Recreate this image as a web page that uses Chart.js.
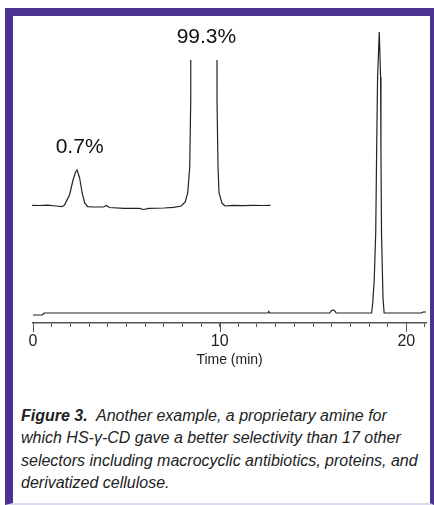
<!DOCTYPE html>
<html>
<head>
<meta charset="utf-8">
<script src="https://cdn.jsdelivr.net/npm/chart.js@4.4.1/dist/chart.umd.min.js"></script>
<style>
  body { margin: 0; background: #fff; width: 434px; height: 505px; overflow: hidden; }
  #frame {
    position: absolute; left: 5px; top: 8px; width: 429px; height: 497px;
    box-sizing: border-box;
    border-left: 8px solid #4b3190; border-top: 8px solid #4b3190;
    border-right: 4px solid #4b3190; border-bottom: 2px solid #dcd8ee;
  }
  #plot { position: absolute; left: 13px; top: 16px; }
  #caption {
    position: absolute; left: 21px; top: 405px; width: 420px;
    font-family: "Liberation Sans", Arial, sans-serif; font-style: italic;
    font-size: 16px; line-height: 22.3px; color: #222; white-space: nowrap;
  }
</style>
</head>
<body>
<div id="frame"></div>
<canvas id="plot" width="417" height="370"></canvas>
<div id="caption"><b>Figure 3.</b>&nbsp; Another example, a proprietary amine for<br>which HS-γ-CD gave a better selectivity than 17 other<br>selectors including macrocyclic antibiotics, proteins, and<br>derivatized cellulose.</div>

<script>
// main chromatogram (time in min, detector signal, arbitrary units)
const mainTime   = [0, 0.5, 0.55, 0.6, 5, 12.58, 12.63, 12.68, 15.9, 15.97, 16.07, 16.17, 16.24,
                    18.14, 18.20, 18.28, 18.36, 18.41, 18.46, 18.55, 18.58, 18.62, 18.64, 18.67, 18.75, 18.81,
                    20.8, 20.9, 21.06];
const mainSignal = [-2, -2, -1, 0, 0, 0, 1.5, 0, 0, 2, 3, 2, 0,
                    0, 10, 33, 80, 163, 236, 281, 281, 236, 163, 80, 15, 0,
                    0, 1, 1];

// inset: expanded view 15.2 - 19.9 min (big peak goes off scale)
const insetTime   = [15.19, 15.34, 15.50, 15.66, 15.78, 15.83, 15.93, 16.00, 16.05, 16.08, 16.13, 16.18, 16.23, 16.29,
                     16.42, 16.60, 16.66, 16.72, 17.01, 17.31, 17.40, 17.50, 17.80, 17.99,
                     18.14, 18.22, 18.27, 18.31, 18.33, 18.34, 18.40, 18.59, 18.78, 18.83, 18.85, 18.87, 18.89, 18.95, 19.01,
                     19.17, 19.36, 19.56, 19.76, 19.91];
const insetSignal = [0.7, 0.5, 0.8, 0, -0.7, 1, 11, 26, 34, 36, 28, 13, 3, -0.7,
                     -1, -1, 0.5, -1.5, -2.3, -2.3, -3.5, -2.3, -2, -1.3,
                     0, 4, 13, 39, 106, 2000, 3500, 5100, 3500, 2000, 106, 39, 13, 2.7, 0,
                     0.7, 0.3, 0.7, 0.5, 0.7];

const majorTicks = [0, 10, 20];
const peakLabels = ['0.7%', '99.3%'];
const peakLabelTime = [16.13, 18.64];
const peakLabelLevel = [59, 169];

const majorTickPlugin = {
  id: 'majorTicks',
  afterDraw(chart) {
    const ctx = chart.ctx, sx = chart.scales.x, bottom = chart.chartArea.bottom;
    ctx.save();
    ctx.strokeStyle = '#555';
    ctx.lineWidth = 1;
    majorTicks.forEach(v => {
      const px = Math.round(sx.getPixelForValue(v)) + 0.5;
      ctx.beginPath();
      ctx.moveTo(px, bottom);
      ctx.lineTo(px, bottom + 9);
      ctx.stroke();
    });
    ctx.restore();
  }
};

const labelPlugin = {
  id: 'peakLabels',
  afterDraw(chart) {
    const ctx = chart.ctx, sx = chart.scales.x2, sy = chart.scales.y2;
    ctx.save();
    ctx.fillStyle = '#111';
    ctx.font = '21px "Liberation Sans", Arial, sans-serif';
    ctx.textAlign = 'center';
    ctx.textBaseline = 'middle';
    peakLabels.forEach((t, i) => {
      ctx.fillText(t, sx.getPixelForValue(peakLabelTime[i]), sy.getPixelForValue(peakLabelLevel[i]));
    });
    ctx.restore();
  }
};

const ctx = document.getElementById('plot').getContext('2d');
new Chart(ctx, {
  type: 'line',
  data: {
    datasets: [{
      data: mainTime.map((t, i) => ({x: t, y: mainSignal[i]})),
      xAxisID: 'x', yAxisID: 'y',
      borderColor: '#222', borderWidth: 1.2, pointRadius: 0, tension: 0
    }, {
      data: insetTime.map((t, i) => ({x: t, y: insetSignal[i]})),
      xAxisID: 'x2', yAxisID: 'y2',
      borderColor: '#222', borderWidth: 1.2, pointRadius: 0, tension: 0,
      clip: {left: 5, top: -30, right: 0, bottom: 0}
    }]
  },
  options: {
    responsive: false,
    animation: false,
    layout: { padding: {left: 20, right: 0, top: 14, bottom: 0} },
    plugins: { legend: {display: false}, tooltip: {enabled: false} },
    scales: {
      x: {
        type: 'linear', position: 'bottom', min: 0, max: 21.06,
        afterFit(scale) { scale.height = 63; },
        ticks: {
          stepSize: 1, includeBounds: false, autoSkip: false, maxRotation: 0,
          padding: 5, color: '#222',
          font: {family: '"Liberation Sans", Arial, sans-serif', size: 16},
          callback: v => (v % 10 === 0 ? String(v) : '')
        },
        grid: { drawOnChartArea: false, tickLength: 4, tickColor: '#555', tickWidth: 1 },
        border: { display: true, color: '#555', width: 1.5 },
        title: {
          display: true, text: 'Time (min)', color: '#222',
          font: {family: '"Liberation Sans", Arial, sans-serif', size: 14},
          padding: {top: 0, bottom: 17}
        }
      },
      y: { display: false, min: -10, max: 283 },
      x2: { type: 'linear', display: false, min: 15.207, max: 22.99 },
      y2: { display: false, min: -117, max: 176 }
    }
  },
  plugins: [majorTickPlugin, labelPlugin]
});
</script>
</body>
</html>
